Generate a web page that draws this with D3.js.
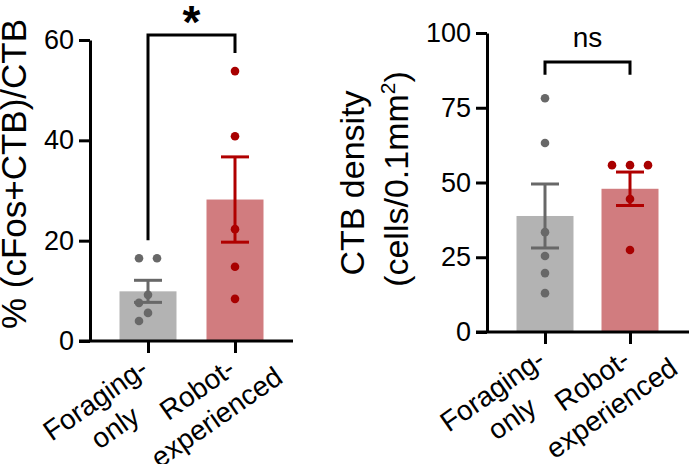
<!DOCTYPE html>
<html lang="en">
<head>
  <meta charset="UTF-8">
  <title>cFos / CTB panels</title>
  <style>
    body { margin: 0; background: #fff; }
    svg { font-family: "Liberation Sans", Arial, sans-serif; }
  </style>
  <script src="https://cdn.jsdelivr.net/npm/d3@7"></script>
</head>
<body>
<script>
// groups and label lines
var groups = ["Foraging-only", "Robot-experienced"];
var groupLines = [["Foraging-", "only"], ["Robot-", "experienced"]];

// panel A: % (cFos+CTB)/CTB
var fosMean = [9.9, 28.2];
var fosSem = [2.2, 8.5];
var fosPoints = [[16.5, 16.5, 9.2, 7.6, 5.6, 4.0], [53.8, 40.8, 22.3, 14.8, 8.4]];
var fosTicks = [0, 20, 40, 60];

// panel B: CTB density
var ctbMean = [38.8, 47.9];
var ctbSem = [10.7, 5.6];
var ctbPoints = [[78.2, 63.2, 33.4, 25.4, 19.7, 13.0], [55.8, 55.8, 55.8, 44.5, 27.4]];
var ctbTicks = [0, 25, 50, 75, 100];

var barFill = ["#b3b3b3", "#d17c7f"];
var dotFill = ["#686868", "#a80000"];
var errColor = ["#686868", "#b00000"];

var svg = d3.select("body").append("svg")
  .attr("width", 689).attr("height", 464);

// simple beeswarm: spread dots that overlap, centre rows with equal values
function swarm(vals, y, step, minDist) {
  var order = vals.map(function(v, i) { return i; })
    .sort(function(a, b) { return vals[b] - vals[a]; });
  var placed = [];
  var cands = [0];
  for (var k = 1; k < 8; k++) { cands.push(-k * step, k * step); }
  order.forEach(function(i) {
    var py = y(vals[i]);
    var off = cands.find(function(c) {
      return placed.every(function(p) {
        return Math.hypot(p.dx - c, p.y - py) >= minDist;
      });
    });
    placed.push({ i: i, y: py, dx: off, v: vals[i] });
    var row = placed.filter(function(p) { return p.v === vals[i]; });
    if (row.length > 1) {
      var m = d3.mean(row, function(p) { return p.dx; });
      row.forEach(function(p) { p.dx -= m; });
    }
  });
  return placed;
}

function drawPanel(cfg) {
  var g = svg.append("g");
  var y = d3.scaleLinear().domain(cfg.yDomain).range(cfg.yRange);
  var x = d3.scalePoint().domain(groups).range(cfg.xRange);
  var bw = 57;
  var base = cfg.yRange[0];

  // bars
  g.selectAll("rect.bar")
    .data(groups)
    .enter().append("rect")
    .attr("x", function(d) { return x(d) - bw / 2; })
    .attr("y", function(d, i) { return y(cfg.mean[i]); })
    .attr("width", bw)
    .attr("height", function(d, i) { return base - y(cfg.mean[i]); })
    .attr("fill", function(d, i) { return barFill[i]; });

  // dots
  groups.forEach(function(grp, i) {
    var pts = swarm(cfg.points[i], y, 9, 12);
    g.selectAll(null)
      .data(pts)
      .enter().append("circle")
      .attr("cx", function(p) { return x(grp) + p.dx; })
      .attr("cy", function(p) { return p.y; })
      .attr("r", 4.3)
      .attr("fill", dotFill[i]);
  });

  // error bars (mean +/- sem)
  groups.forEach(function(grp, i) {
    var cx = x(grp);
    var lo = y(cfg.mean[i] - cfg.sem[i]);
    var hi = y(cfg.mean[i] + cfg.sem[i]);
    var eb = g.append("g").attr("stroke", errColor[i]).attr("stroke-width", 3);
    eb.append("line").attr("x1", cx).attr("x2", cx).attr("y1", lo).attr("y2", hi);
    eb.append("line").attr("x1", cx - 14).attr("x2", cx + 14).attr("y1", hi).attr("y2", hi);
    eb.append("line").attr("x1", cx - 14).attr("x2", cx + 14).attr("y1", lo).attr("y2", lo);
  });

  // y axis
  var ya = g.append("g")
    .attr("transform", "translate(" + cfg.axisX + ",0)")
    .call(d3.axisLeft(y).tickValues(cfg.ticks).tickSize(11).tickPadding(5).tickSizeOuter(0));
  ya.select(".domain").attr("stroke-width", 3);
  ya.selectAll(".tick line").attr("stroke-width", 3);
  ya.selectAll(".tick text").attr("font-size", 27).attr("font-family", "Liberation Sans, Arial, sans-serif").attr("fill", "#000");

  // x axis
  var xa = g.append("g")
    .attr("transform", "translate(0," + base + ")")
    .call(d3.axisBottom(x).tickSize(12).tickFormat(""));
  xa.select(".domain").remove();
  xa.selectAll(".tick line").attr("stroke-width", 3);
  g.append("line")
    .attr("x1", cfg.axisX - 11).attr("x2", cfg.xEnd)
    .attr("y1", base).attr("y2", base)
    .attr("stroke", "#000").attr("stroke-width", 3);

  // rotated two-line category labels
  groups.forEach(function(grp, i) {
    var lg = g.append("g")
      .attr("transform", "translate(" + (x(grp) + 2) + "," + (base + 32) + ") rotate(-35)");
    var t1 = lg.append("text")
      .attr("text-anchor", "end")
      .attr("font-size", 28)
      .text(groupLines[i][0]);
    var w1 = t1.node().getComputedTextLength();
    lg.append("text")
      .attr("text-anchor", "middle")
      .attr("font-size", 28)
      .attr("x", -w1 / 2)
      .attr("y", 34)
      .text(groupLines[i][1]);
  });

  // significance bracket
  var x1 = x(groups[0]), x2 = x(groups[1]);
  var by = y(cfg.bracket[0]);
  g.append("path")
    .attr("d", "M" + x1 + "," + y(cfg.bracket[1]) + "V" + by + "H" + x2 + "V" + y(cfg.bracket[2]))
    .attr("fill", "none").attr("stroke", "#000").attr("stroke-width", 3);
  g.append("text")
    .attr("x", (x1 + x2) / 2)
    .attr("y", cfg.sigY)
    .attr("text-anchor", "middle")
    .attr("font-size", cfg.sigSize)
    .attr("font-weight", cfg.sigBold ? "bold" : "normal")
    .text(cfg.sig);

  return g;
}

drawPanel({
  yDomain: [0, 60], yRange: [341, 40], xRange: [148, 235],
  axisX: 90, xEnd: 293,
  mean: fosMean, sem: fosSem, points: fosPoints, ticks: fosTicks,
  bracket: [61, 20.1, 57.4], sig: "*", sigY: 38, sigSize: 46, sigBold: true
});

drawPanel({
  yDomain: [0, 100], yRange: [332, 33], xRange: [545, 630],
  axisX: 487, xEnd: 695,
  mean: ctbMean, sem: ctbSem, points: ctbPoints, ticks: ctbTicks,
  bracket: [90.3, 86, 86], sig: "ns", sigY: 47, sigSize: 28, sigBold: false
});

// y axis titles
svg.append("text")
  .attr("transform", "translate(26,174) rotate(-90)")
  .attr("text-anchor", "middle")
  .attr("font-size", 35)
  .text("% (cFos+CTB)/CTB");

svg.append("text")
  .attr("transform", "translate(364,183) rotate(-90)")
  .attr("text-anchor", "middle")
  .attr("font-size", 34)
  .text("CTB density");

var t2 = svg.append("text")
  .attr("transform", "translate(408,179) rotate(-90)")
  .attr("text-anchor", "middle")
  .attr("font-size", 34);
t2.append("tspan").text("(cells/0.1mm");
t2.append("tspan").attr("font-size", 21).attr("dy", -13).text("2");
t2.append("tspan").attr("dy", 13).text(")");
</script>
</body>
</html>
